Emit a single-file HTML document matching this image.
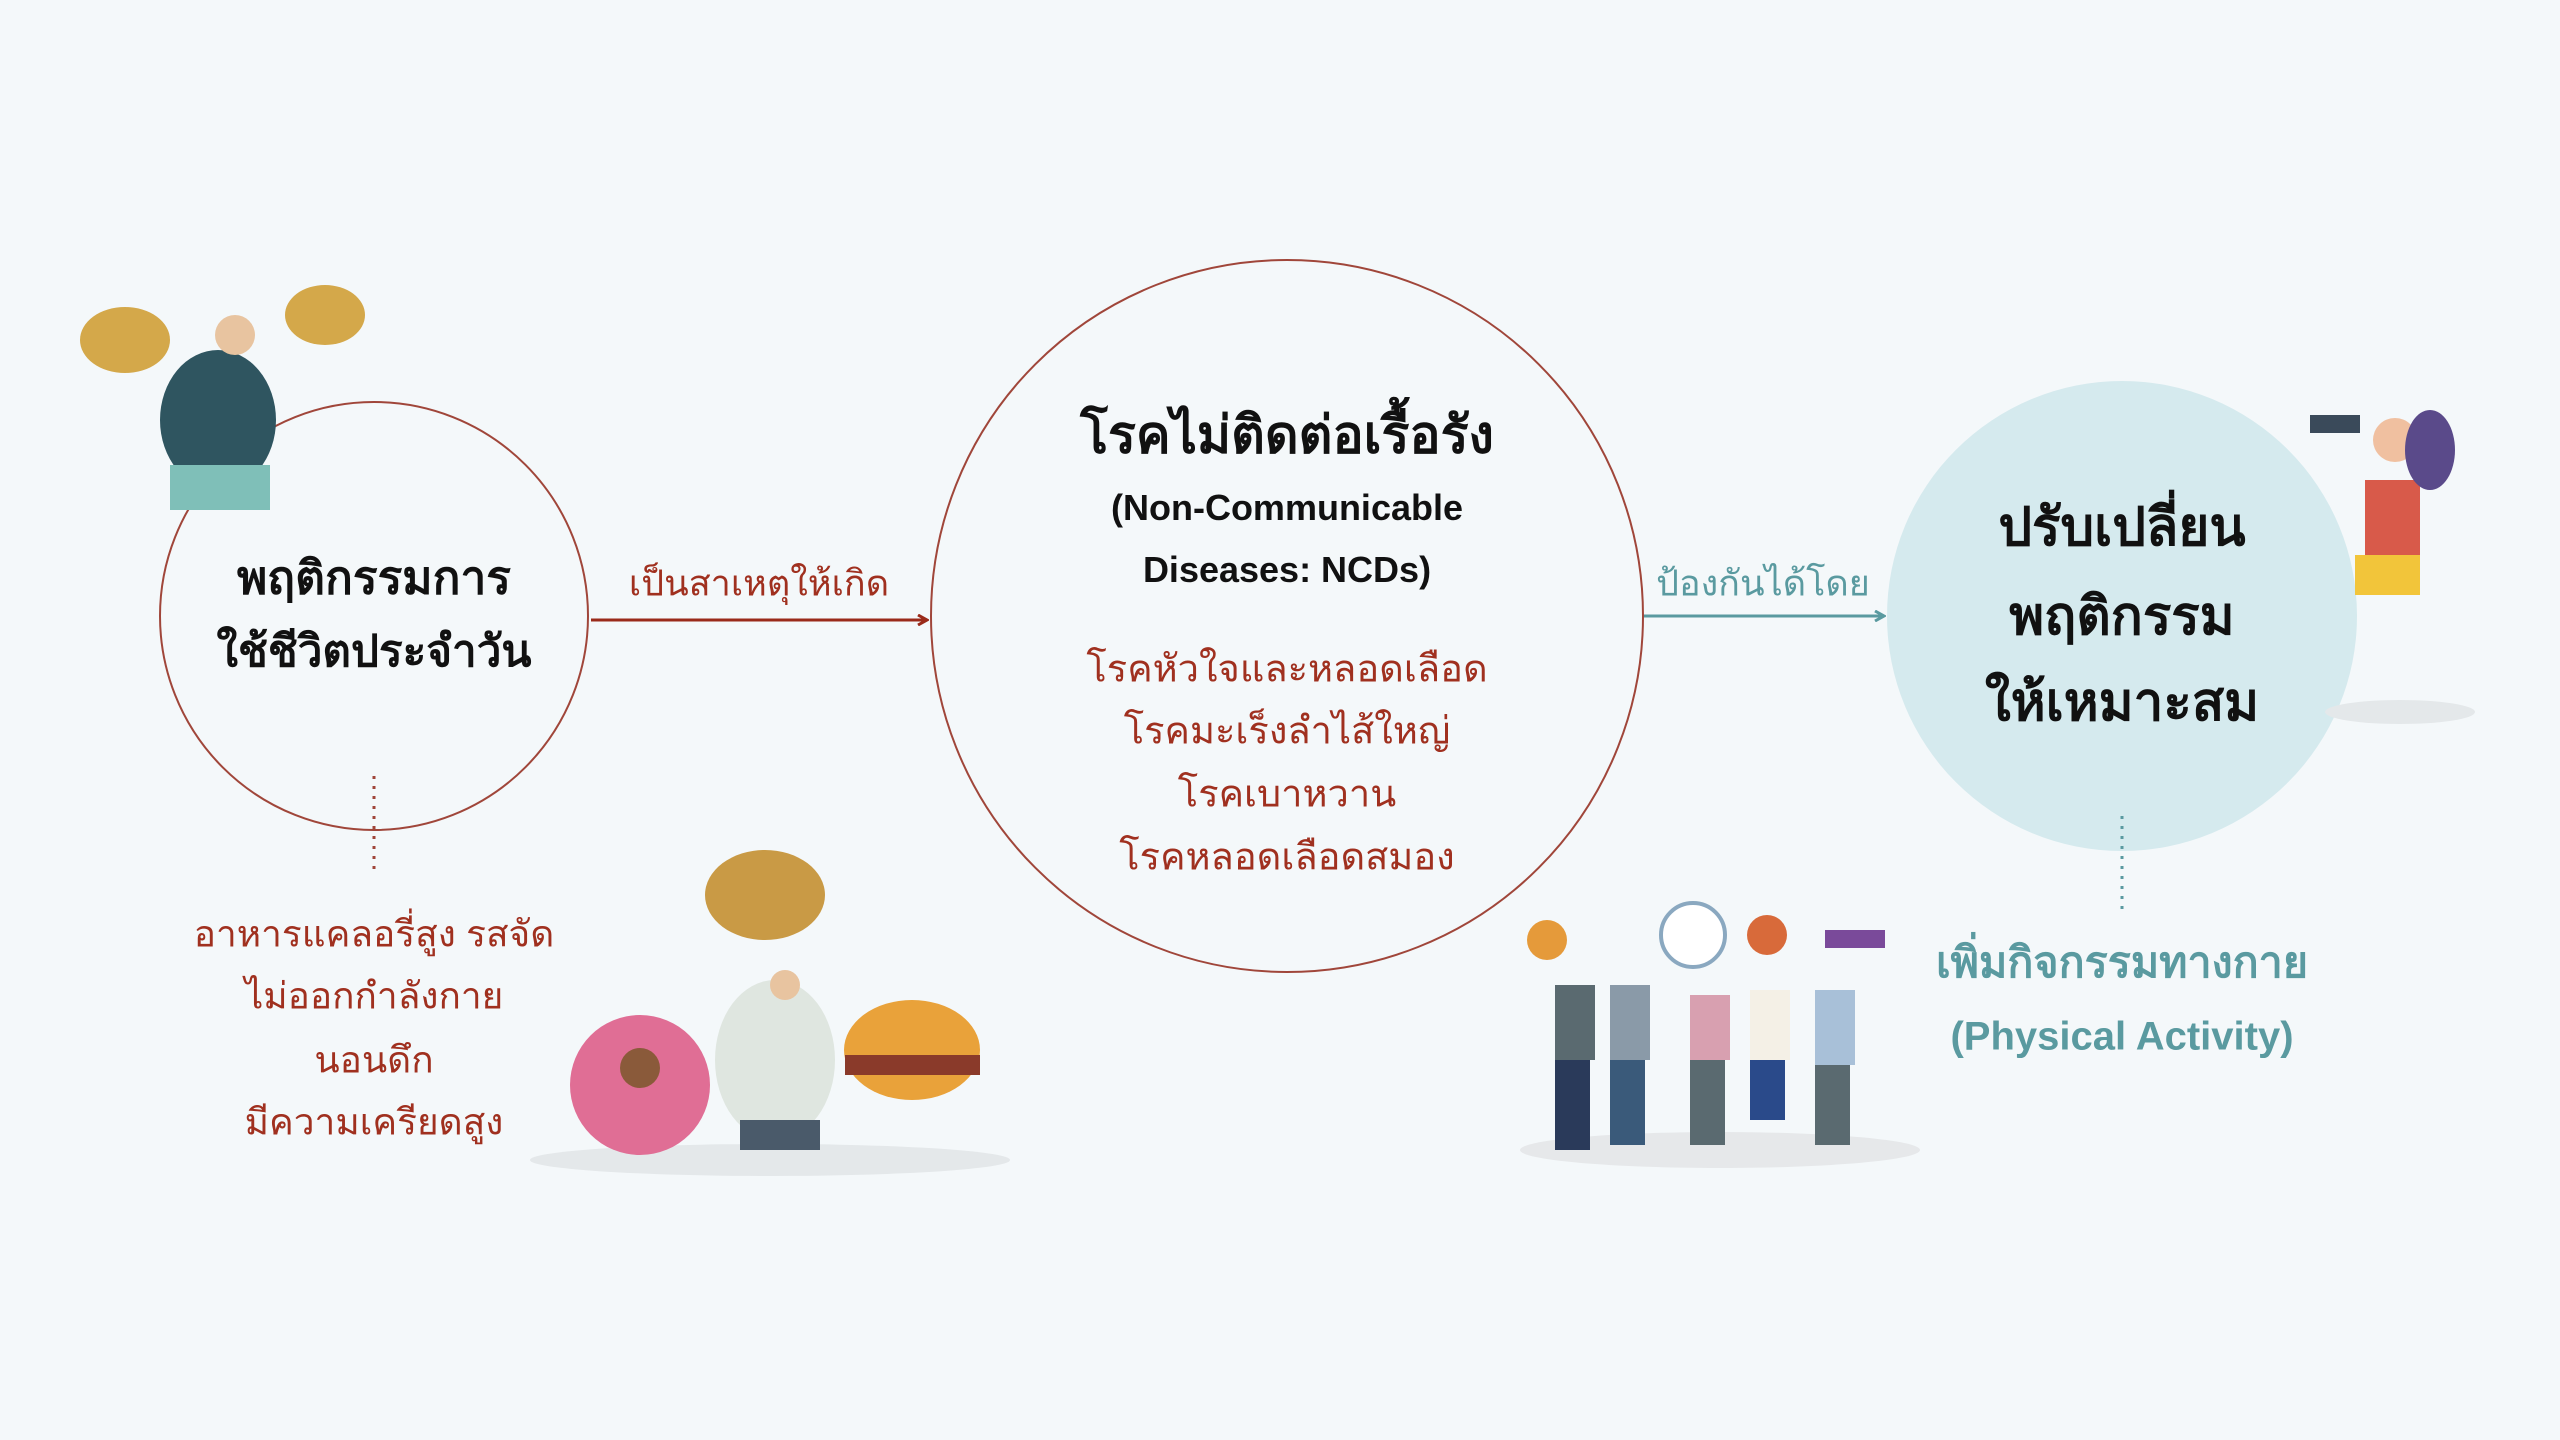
<!DOCTYPE html>
<html><head><meta charset="utf-8"><style>
body{margin:0;width:2560px;height:1440px;background:#f4f8fa;position:relative;overflow:hidden;font-family:"Liberation Sans","DejaVu Sans",sans-serif}
.t{position:absolute;white-space:nowrap;transform:translate(-50%,-50%);text-align:center}
.b{font-weight:bold;color:#111}
.r{color:#a0301f}
.g{color:#5a9aa0}
</style></head><body>
<svg width="2560" height="1440" style="position:absolute;left:0;top:0">
<defs>
<marker id="ar" markerWidth="12" markerHeight="12" refX="10" refY="6" orient="auto" markerUnits="userSpaceOnUse"><path d="M1,1 L10,6 L1,11" fill="none" stroke="#9a2a1a" stroke-width="3"/></marker>
<marker id="ag" markerWidth="12" markerHeight="12" refX="10" refY="6" orient="auto" markerUnits="userSpaceOnUse"><path d="M1,1 L10,6 L1,11" fill="none" stroke="#5a9aa0" stroke-width="3"/></marker>
</defs>
<circle cx="2122" cy="616" r="235" fill="#d5eaee"/>
<circle cx="374" cy="616" r="214" fill="none" stroke="#a0463a" stroke-width="2"/>
<circle cx="1287" cy="616" r="356" fill="none" stroke="#a0463a" stroke-width="2"/>
<line x1="591" y1="620" x2="927" y2="620" stroke="#9a2a1a" stroke-width="3" marker-end="url(#ar)"/>
<line x1="1644" y1="616" x2="1884" y2="616" stroke="#5a9aa0" stroke-width="3" marker-end="url(#ag)"/>
<line x1="374" y1="776" x2="374" y2="873" stroke="#a0463a" stroke-width="3" stroke-dasharray="3,7"/>
<line x1="2122" y1="816" x2="2122" y2="914" stroke="#5a9aa0" stroke-width="3" stroke-dasharray="3,7"/>
<ellipse cx="125" cy="340" rx="45" ry="33" fill="#d4a84a"/>
<ellipse cx="325" cy="315" rx="40" ry="30" fill="#d4a84a"/>
<ellipse cx="218" cy="420" rx="58" ry="70" fill="#2f5560"/>
<circle cx="235" cy="335" r="20" fill="#e8c4a0"/>
<rect x="170" y="465" width="100" height="45" fill="#7fbfb8"/>
<ellipse cx="770" cy="1160" rx="240" ry="16" fill="#e4e8ea"/>
<circle cx="640" cy="1085" r="70" fill="#e06e95"/>
<circle cx="640" cy="1068" r="20" fill="#8a5a3a"/>
<ellipse cx="765" cy="895" rx="60" ry="45" fill="#c99a45"/>
<ellipse cx="775" cy="1060" rx="60" ry="80" fill="#dfe6e0"/>
<circle cx="785" cy="985" r="15" fill="#e8c4a0"/>
<rect x="740" y="1120" width="80" height="30" fill="#4a5a6a"/>
<ellipse cx="912" cy="1050" rx="68" ry="50" fill="#e9a23a"/>
<rect x="845" y="1055" width="135" height="20" fill="#8a3a2a"/>
<ellipse cx="1720" cy="1150" rx="200" ry="18" fill="#e6e8ea"/>
<g fill="#5a6a70">
<rect x="1555" y="985" width="40" height="75"/><rect x="1610" y="985" width="40" height="75" fill="#8a9aa8"/>
<rect x="1690" y="995" width="40" height="65" fill="#d8a0b0"/><rect x="1750" y="990" width="40" height="70" fill="#f4f0e6"/>
<rect x="1815" y="990" width="40" height="75" fill="#a8c0d8"/>
<rect x="1555" y="1060" width="35" height="90" fill="#2a3a5a"/><rect x="1610" y="1060" width="35" height="85" fill="#3a5a7a"/>
<rect x="1690" y="1060" width="35" height="85"/><rect x="1750" y="1060" width="35" height="60" fill="#2a4a8a"/><rect x="1815" y="1065" width="35" height="80"/>
</g>
<circle cx="1547" cy="940" r="20" fill="#e59a3a"/><circle cx="1693" cy="935" r="32" fill="#fff" stroke="#8aa8c0" stroke-width="4"/>
<circle cx="1767" cy="935" r="20" fill="#d86a3a"/><rect x="1825" y="930" width="60" height="18" fill="#7a4a9a"/>
<ellipse cx="2400" cy="712" rx="75" ry="12" fill="#e4e8ea"/>
<rect x="2365" y="480" width="55" height="85" fill="#d85a4a"/>
<rect x="2355" y="555" width="65" height="40" fill="#f2c53a"/>
<circle cx="2395" cy="440" r="22" fill="#f0c0a0"/>
<ellipse cx="2430" cy="450" rx="25" ry="40" fill="#5a4a8a"/>
<rect x="2310" y="415" width="50" height="18" fill="#3a4a5a"/>
</svg>
<div class="t b" style="left:374px;top:578px;font-size:46px">พฤติกรรมการ</div>
<div class="t b" style="left:374px;top:651px;font-size:44px">ใช้ชีวิตประจำวัน</div>
<div class="t r" style="left:759px;top:583px;font-size:36px">เป็นสาเหตุให้เกิด</div>
<div class="t g" style="left:1763px;top:583px;font-size:36px">ป้องกันได้โดย</div>
<div class="t r" style="left:374px;top:934px;font-size:37px">อาหารแคลอรี่สูง รสจัด</div>
<div class="t r" style="left:374px;top:996px;font-size:37px">ไม่ออกกำลังกาย</div>
<div class="t r" style="left:374px;top:1060px;font-size:37px">นอนดึก</div>
<div class="t r" style="left:374px;top:1122px;font-size:37px">มีความเครียดสูง</div>
<div class="t b" style="left:1287px;top:434px;font-size:52px">โรคไม่ติดต่อเรื้อรัง</div>
<div class="t b" style="left:1287px;top:508px;font-size:36px">(Non-Communicable</div>
<div class="t b" style="left:1287px;top:570px;font-size:36px">Diseases: NCDs)</div>
<div class="t r" style="left:1287px;top:668px;font-size:38px">โรคหัวใจและหลอดเลือด</div>
<div class="t r" style="left:1287px;top:730px;font-size:38px">โรคมะเร็งลำไส้ใหญ่</div>
<div class="t r" style="left:1287px;top:793px;font-size:38px">โรคเบาหวาน</div>
<div class="t r" style="left:1287px;top:856px;font-size:38px">โรคหลอดเลือดสมอง</div>
<div class="t b" style="left:2122px;top:527px;font-size:53px">ปรับเปลี่ยน</div>
<div class="t b" style="left:2122px;top:616px;font-size:53px">พฤติกรรม</div>
<div class="t b" style="left:2122px;top:702px;font-size:53px">ให้เหมาะสม</div>
<div class="t g" style="left:2122px;top:962px;font-size:43px;font-weight:bold">เพิ่มกิจกรรมทางกาย</div>
<div class="t g" style="left:2122px;top:1037px;font-size:40px;font-weight:bold">(Physical Activity)</div>
</body></html>
